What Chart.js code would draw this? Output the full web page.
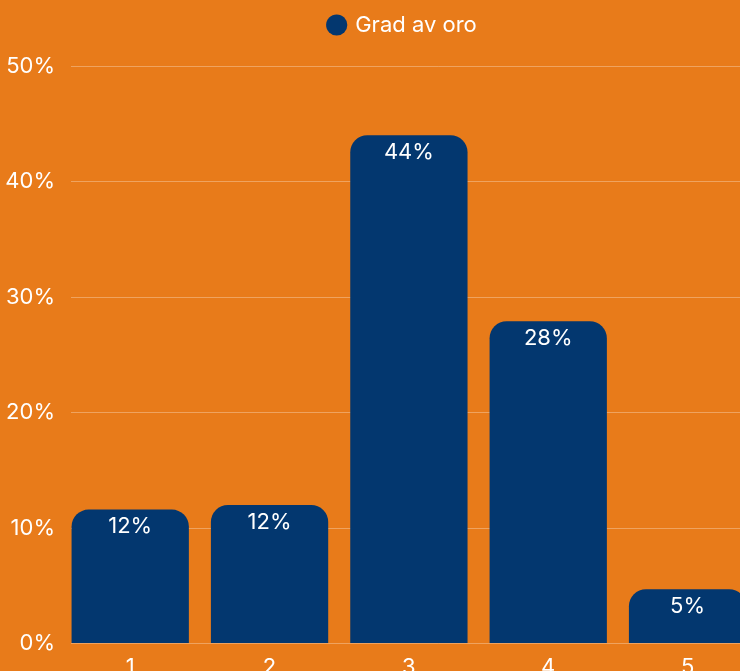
<!DOCTYPE html>
<html>
<head>
<meta charset="utf-8">
<script src="https://cdn.jsdelivr.net/npm/chart.js@4"></script>
<style>
    html, body { margin: 0; padding: 0; overflow: hidden; background: #E87B1A; }
    #wrap { position: relative; width: 806px; height: 684px; }
</style>
</head>
<body>
<div id="wrap"><canvas id="myChart"></canvas></div>
<script>
const categories = [1, 2, 3, 4, 5]
const oroValues = [11.6, 12.0, 44.0, 27.9, 4.7]
const yTicks = [0, 10, 20, 30, 40, 50]

const orange = '#E87B1A'
const blue = '#03376F'

Chart.defaults.font.family = 'Inter, Roboto, sans-serif'
Chart.defaults.color = '#ffffff'

// draws the rounded % value inside the top of each bar
const barValuePlugin = {
    id: 'barValues',
    afterDatasetsDraw(chart) {
        const ctx = chart.ctx
        const meta = chart.getDatasetMeta(0)
        ctx.save()
        ctx.font = '22px Inter, sans-serif'
        ctx.fillStyle = '#ffffff'
        ctx.textAlign = 'center'
        ctx.textBaseline = 'top'
        meta.data.forEach((bar, i) => {
            ctx.fillText(Math.round(oroValues[i]) + '%', bar.x, bar.y + 6)
        })
        ctx.restore()
    }
}

// a bit more room under the legend
const legendSpacePlugin = {
    id: 'legendSpace',
    beforeInit(chart) {
        const fit = chart.legend.fit
        chart.legend.fit = function () {
            fit.bind(chart.legend)()
            this.height += 20
        }
    }
}

const data = {
    labels: categories,
    datasets: [{
        label: 'Grad av oro',
        data: oroValues,
        backgroundColor: blue,
        borderRadius: {topLeft: 17, topRight: 17},
        borderSkipped: 'start',
        categoryPercentage: 0.92,
        barPercentage: 0.915
    }]
}

const options = {
    responsive: true,
    maintainAspectRatio: false,
    animation: false,
    layout: {
        padding: 0
    },
    scales: {
        x: {
            type: 'linear',
            offset: false,
            min: 0.575,
            max: 5.85,
            grid: {display: false},
            border: {display: false},
            afterBuildTicks: (axis) => {
                axis.ticks = categories.map((v) => ({value: v}))
            },
            ticks: {
                color: '#ffffff',
                padding: 3,
                font: {size: 22},
                callback: (v) => String(v)
            }
        },
        y: {
            min: 0,
            max: 50,
            afterBuildTicks: (axis) => {
                axis.ticks = yTicks.map((v) => ({value: v}))
            },
            afterFit: (axis) => {
                axis.width = 71
            },
            grid: {
                color: 'rgba(255,255,255,0.3)',
                drawTicks: false
            },
            border: {display: false},
            ticks: {
                color: '#ffffff',
                padding: 16,
                font: {size: 22},
                callback: (v) => v + '%'
            }
        }
    },
    plugins: {
        legend: {
            display: true,
            position: 'top',
            labels: {
                color: '#ffffff',
                usePointStyle: true,
                pointStyle: 'circle',
                boxHeight: 15,
                boxWidth: 15,
                padding: 14,
                font: {size: 22}
            }
        },
        tooltip: {enabled: false}
    }
}

const config = {
    type: 'bar',
    data: data,
    options: options,
    plugins: [barValuePlugin, legendSpacePlugin]
}

new Chart(document.getElementById('myChart'), config)
</script>
</body>
</html>
